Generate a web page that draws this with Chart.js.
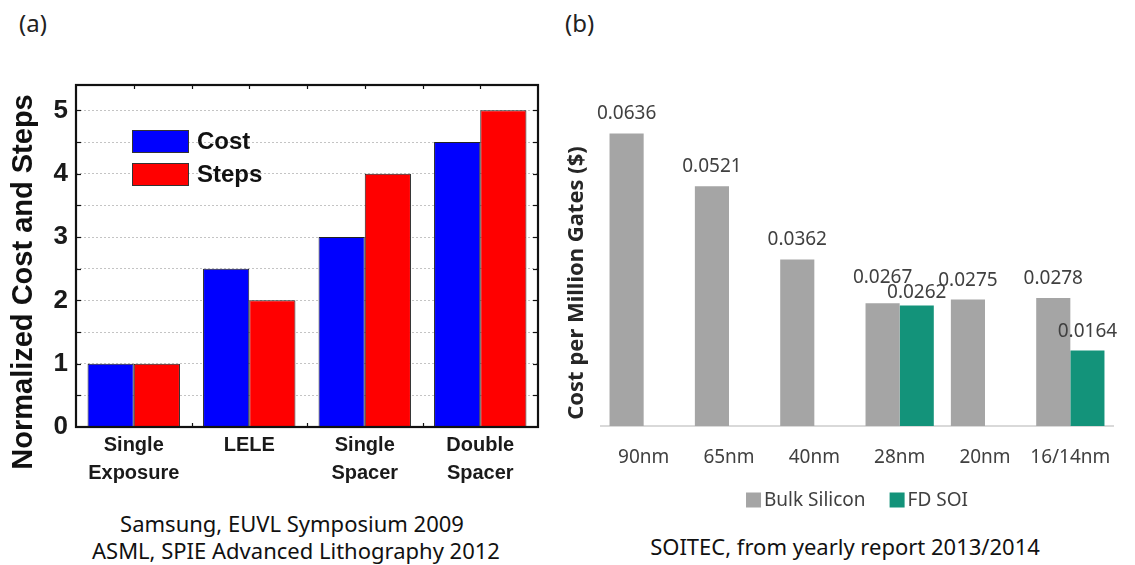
<!DOCTYPE html>
<html><head><meta charset="utf-8">
<script src="https://cdn.jsdelivr.net/npm/chart.js@4.4.1/dist/chart.umd.min.js"></script>
<style>
html,body{margin:0;padding:0;background:#fff;}
body{width:1135px;height:565px;overflow:hidden;position:relative;font-family:"Noto Sans",sans-serif;color:#111;}
#ca{position:absolute;left:0;top:0;}
#cb{position:absolute;left:560px;top:0;}
.tag{position:absolute;font-size:24px;color:#222;line-height:1;}
.cap{position:absolute;font-size:22px;color:#111;text-align:center;white-space:nowrap;line-height:27px;}
</style>
</head><body>
<div class="tag" style="left:19px;top:11px;">(a)</div>
<div class="tag" style="left:565px;top:11px;">(b)</div>
<canvas id="ca" width="560" height="500"></canvas>
<canvas id="cb" width="575" height="520"></canvas>
<div class="cap" style="left:92px;width:400px;top:510px;">Samsung, EUVL Symposium 2009<br>ASML, SPIE Advanced Lithography 2012</div>
<div class="cap" style="left:645px;width:400px;top:533px;">SOITEC, from yearly report 2013/2014</div>
<script>
// ---------- Data (a) ----------
const catsA = [["Single","Exposure"], "LELE", ["Single","Spacer"], ["Double","Spacer"]];
const costA = [1, 2.5, 3, 4.5];
const stepsA = [1, 2, 4, 5];
const yTitleA = "Normalized Cost and Steps";

// ---------- Data (b) ----------
const catsB = ["90nm", "65nm", "40nm", "28nm", "20nm", "16/14nm"];
const bulkB = [0.0636, 0.0521, 0.0362, 0.0267, 0.0275, 0.0278];
const fdsoiB = [null, null, null, 0.0262, null, 0.0164];
const yTitleB = "Cost per Million Gates ($)";

// label gap above bar top (px), per dataset / category index; default 14
const LABEL_GAP = [[14, 14, 14, 20, 14, 14], [14, 14, 14, 7, 14, 14]];

Chart.defaults.animation = false;

// ---------- plugins ----------
const frameA = {
  id: 'frameA',
  afterDatasetsDraw(chart) {
    const {ctx, chartArea: a, scales} = chart;
    ctx.save();
    ctx.strokeStyle = '#111';
    ctx.lineWidth = 1.2;
    for (let v = 0.5; v < 5.4; v += 0.5) {
      const y = Math.round(scales.y.getPixelForValue(v)) + 0.5;
      ctx.beginPath(); ctx.moveTo(a.left, y); ctx.lineTo(a.left + 5, y); ctx.stroke();
      ctx.beginPath(); ctx.moveTo(a.right, y); ctx.lineTo(a.right - 5, y); ctx.stroke();
    }
    const n = chart.data.labels.length;
    const w = (a.right - a.left) / n;
    for (let i = 1; i < 2 * n; i++) {
      const x = Math.round(a.left + i * w / 2) + 0.5;
      ctx.beginPath(); ctx.moveTo(x, a.top); ctx.lineTo(x, a.top + 4); ctx.stroke();
      if (i % 2 === 0) { ctx.beginPath(); ctx.moveTo(x, a.bottom); ctx.lineTo(x, a.bottom - 4); ctx.stroke(); }
    }
    ctx.lineWidth = 2.2;
    ctx.strokeStyle = '#111';
    ctx.strokeRect(a.left, a.top, a.right - a.left, a.bottom - a.top);
    // inner legend
    const ds = chart.data.datasets;
    ctx.font = 'bold 24px "Liberation Sans", Arial, sans-serif';
    ctx.textBaseline = 'middle';
    ctx.textAlign = 'left';
    ds.forEach((d, i) => {
      const bx = 132, by = 130 + i * 33;
      ctx.fillStyle = d.backgroundColor;
      ctx.fillRect(bx, by, 57, 23);
      ctx.lineWidth = 1;
      ctx.strokeStyle = '#333';
      ctx.strokeRect(bx + 0.5, by + 0.5, 56, 22);
      ctx.fillStyle = '#111';
      ctx.fillText(d.label, 197, by + 12);
    });
    // y title
    ctx.save();
    ctx.translate(24, 282);
    ctx.rotate(-Math.PI / 2);
    ctx.textAlign = 'center';
    ctx.textBaseline = 'middle';
    ctx.font = 'bold 29px "Liberation Sans", Arial, sans-serif';
    ctx.fillStyle = '#111';
    ctx.fillText(yTitleA, 0, 0);
    ctx.restore();
    ctx.restore();
  }
};

const decoB = {
  id: 'decoB',
  afterDatasetsDraw(chart) {
    const {ctx} = chart;
    ctx.save();
    ctx.font = '19px "Noto Sans", sans-serif';
    ctx.fillStyle = '#404040';
    ctx.textAlign = 'center';
    ctx.textBaseline = 'alphabetic';
    chart.data.datasets.forEach((d, di) => {
      const meta = chart.getDatasetMeta(di);
      meta.data.forEach((el, i) => {
        const v = d.data[i];
        if (v === null || v === undefined) return;
        ctx.fillText(v.toFixed(4), el.x, el.y - LABEL_GAP[di][i]);
      });
    });
    // legend
    ctx.font = '19px "Noto Sans", sans-serif';
    ctx.textAlign = 'left';
    ctx.textBaseline = 'middle';
    const items = chart.data.datasets.map(d => ({label: d.label, color: d.backgroundColor, w: 15 + 3 + ctx.measureText(d.label).width}));
    const gap = 24;
    const total = items.reduce((s, it) => s + it.w, 0) + gap * (items.length - 1);
    const ca = chart.chartArea;
    let x = (ca.left + ca.right) / 2 - total / 2;
    const yc = 500;
    items.forEach(it => {
      ctx.fillStyle = it.color;
      ctx.fillRect(x, yc - 7.5, 15, 15);
      ctx.fillStyle = '#404040';
      ctx.fillText(it.label, x + 18, yc + 1);
      x += it.w + gap;
    });
    // y title
    ctx.save();
    ctx.translate(17, 283);
    ctx.rotate(-Math.PI / 2);
    ctx.textAlign = 'center';
    ctx.textBaseline = 'middle';
    ctx.font = 'bold 22px "Noto Sans", sans-serif';
    ctx.fillStyle = '#262626';
    ctx.fillText(yTitleB, 0, 0);
    ctx.restore();
    ctx.restore();
  }
};

// ---------- Chart (a) ----------
new Chart(document.getElementById('ca'), {
  type: 'bar',
  data: {
    labels: catsA,
    datasets: [
      {label: 'Cost', data: costA, backgroundColor: '#0000ff', borderColor: '#222', borderWidth: 1},
      {label: 'Steps', data: stepsA, backgroundColor: '#ff0000', borderColor: '#222', borderWidth: 1}
    ]
  },
  options: {
    responsive: false,
    devicePixelRatio: 1,
    layout: {padding: {top: 85, right: 22, left: 0, bottom: 0}},
    plugins: {legend: {display: false}, tooltip: {enabled: false}},
    datasets: {bar: {categoryPercentage: 0.8, barPercentage: 1.0}},
    scales: {
      x: {
        grid: {display: false, drawTicks: false},
        border: {display: false},
        ticks: {
          color: '#1a1a1a', padding: 4, maxRotation: 0, autoSkip: false,
          font: {family: '"Liberation Sans", Arial, sans-serif', size: 20, weight: 'bold', lineHeight: 1.4}
        },
        afterFit(s) { s.height = 73; }
      },
      y: {
        min: 0, max: 5.4,
        grid: {color: '#c4c4c4', lineWidth: 1, drawTicks: false},
        border: {display: false, dash: [2, 2]},
        ticks: {
          stepSize: 0.5, includeBounds: false, autoSkip: false, padding: 8, color: '#1a1a1a',
          font: {family: '"Liberation Sans", Arial, sans-serif', size: 26, weight: 'bold'},
          callback: v => (Math.abs(v - Math.round(v)) < 1e-9 ? String(Math.round(v)) : '')
        },
        afterFit(s) { s.width = 76; }
      }
    }
  },
  plugins: [frameA]
});

// ---------- Chart (b) ----------
new Chart(document.getElementById('cb'), {
  type: 'bar',
  data: {
    labels: catsB,
    datasets: [
      {label: 'Bulk Silicon', data: bulkB, backgroundColor: '#a5a5a5'},
      {label: 'FD SOI', data: fdsoiB, backgroundColor: '#13937a'}
    ]
  },
  options: {
    responsive: false,
    devicePixelRatio: 1,
    layout: {padding: {top: 104, right: 22, left: 0, bottom: 0}},
    plugins: {legend: {display: false}, tooltip: {enabled: false}},
    datasets: {bar: {categoryPercentage: 0.8, barPercentage: 1.0}},
    scales: {
      x: {
        grid: {display: false, drawTicks: false},
        border: {display: true, color: '#d9d9d9', width: 2},
        ticks: {color: '#404040', padding: 20, maxRotation: 0, autoSkip: false,
          font: {family: '"Noto Sans", sans-serif', size: 19}},
        afterFit(s) { s.height = 94; }
      },
      y: {
        min: 0, max: 0.07,
        grid: {display: false, drawTicks: false},
        border: {display: false},
        ticks: {display: false},
        afterFit(s) { s.width = 41; }
      }
    }
  },
  plugins: [decoB]
});
</script>
</body></html>
